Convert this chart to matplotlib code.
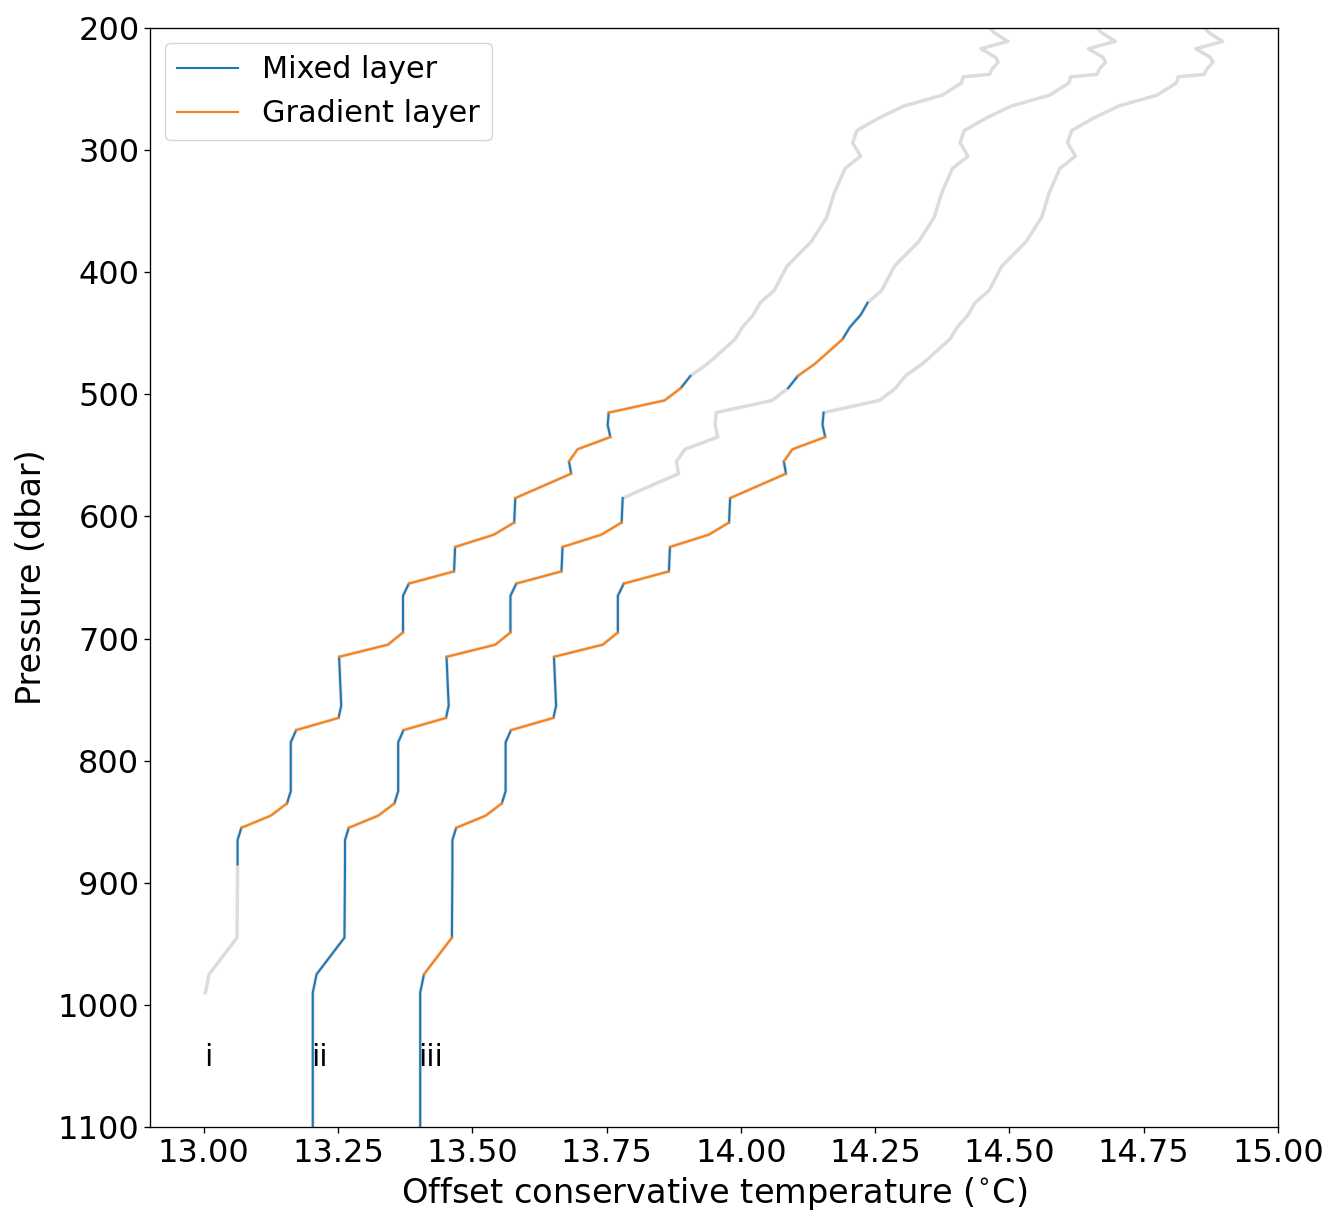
"""
Staircase detection on three offset temperature profiles.

Each profile is drawn in light grey, with the detected mixed layers
and gradient layers overlaid in colour.
"""

import matplotlib.pyplot as plt
import numpy as np
from matplotlib.lines import Line2D

# Base profile (no offset): pressure (dbar) and conservative temperature (degC)
pressure = np.array([
    200, 204, 211, 217, 224, 228, 234, 238, 240, 245,
    255, 264, 274, 284, 294, 305, 315, 335, 355, 375,
    395, 415, 425, 435, 445, 455, 475, 485, 495, 505,
    515, 525, 535, 545, 555, 565, 585, 605, 615, 625,
    645, 655, 665, 695, 705, 715, 735, 755, 765, 775,
    785, 825, 835, 845, 855, 865, 885, 945, 953, 975,
    990,
], dtype=float)
temperature = np.array([
    14.463, 14.472, 14.497, 14.447, 14.474, 14.479, 14.467, 14.463, 14.414, 14.411,
    14.375, 14.303, 14.256, 14.216, 14.208, 14.223, 14.194, 14.174, 14.160, 14.131,
    14.086, 14.062, 14.036, 14.023, 14.003, 13.989, 13.938, 13.906, 13.888, 13.858,
    13.754, 13.752, 13.757, 13.696, 13.680, 13.684, 13.580, 13.578, 13.540, 13.468,
    13.466, 13.382, 13.371, 13.371, 13.343, 13.252, 13.254, 13.256, 13.251, 13.172,
    13.162, 13.162, 13.155, 13.125, 13.070, 13.063, 13.063, 13.062, 13.048, 13.010,
    13.003,
])

# Profiles ii and iii continue below the end of profile i
pressure_deep = np.array([1100.0])
temperature_deep = np.array([13.003])

profile_names = ['i', 'ii', 'iii']
offsets = [0.0, 0.2, 0.4]
extend_deep = [False, True, True]

# Detected layers per profile, as (top, bottom) pressure ranges
mixed_layers = [
    [(485, 495), (515, 535), (555, 565), (585, 605), (625, 645),
     (655, 695), (715, 765), (775, 835), (855, 885)],
    [(425, 455), (485, 495), (585, 605), (625, 645), (655, 695),
     (715, 765), (775, 835), (855, 1100)],
    [(515, 535), (555, 565), (585, 605), (625, 645), (655, 695),
     (715, 765), (775, 835), (855, 945), (975, 1100)],
]
gradient_layers = [
    [(495, 515), (535, 555), (565, 585), (605, 625), (645, 655),
     (695, 715), (765, 775), (835, 855)],
    [(455, 485), (605, 625), (645, 655), (695, 715), (765, 775),
     (835, 855)],
    [(535, 555), (565, 585), (605, 625), (645, 655), (695, 715),
     (765, 775), (835, 855), (945, 975)],
]

MIXED_COLOR = '#1f77b4'
GRADIENT_COLOR = '#ff7f0e'
PROFILE_COLOR = '#dcdcdc'

plt.rcParams['font.family'] = ['DejaVu Sans']
plt.rcParams['axes.linewidth'] = 0.95
plt.rcParams['xtick.major.size'] = 4.1
plt.rcParams['ytick.major.size'] = 4.1
plt.rcParams['xtick.major.width'] = 0.95
plt.rcParams['ytick.major.width'] = 0.95

fig = plt.figure(figsize=(13.3, 12.1), dpi=100)
ax = fig.add_axes([0.1128, 0.0686, 0.8481, 0.9083])


def draw_layers(ax, p, t, ranges, color):
    """Overlay the parts of a profile that fall inside each pressure range."""
    for top, bottom in ranges:
        sel = (p >= top) & (p <= bottom)
        ax.plot(t[sel], p[sel], color=color, lw=1.5, zorder=3)


for k, name in enumerate(profile_names):
    p = pressure
    t = temperature
    if extend_deep[k]:
        p = np.concatenate([p, pressure_deep])
        t = np.concatenate([t, temperature_deep])
    t = t + offsets[k]

    ax.plot(t, p, color=PROFILE_COLOR, lw=2.5, zorder=2)
    draw_layers(ax, p, t, mixed_layers[k], MIXED_COLOR)
    draw_layers(ax, p, t, gradient_layers[k], GRADIENT_COLOR)

    ax.text(13.0 + offsets[k], 1050, name, fontsize=21.5, ha='left', va='baseline')

ax.set_xlim(12.9, 15.0)
ax.set_ylim(1100, 200)
ax.set_xticks(np.arange(13.0, 15.01, 0.25))
ax.set_yticks(np.arange(200, 1101, 100))
ax.tick_params(labelsize=23)
ax.set_xlabel('Offset conservative temperature ($^{\\circ}$C)', fontsize=24.2, labelpad=5)
ax.set_ylabel('Pressure (dbar)', fontsize=24, labelpad=7)

handles = [
    Line2D([], [], color=MIXED_COLOR, lw=1.5),
    Line2D([], [], color=GRADIENT_COLOR, lw=1.5),
]
ax.legend(handles, ['Mixed layer', 'Gradient layer'], loc='upper left', fontsize=21.8)

fig.savefig('out.png', dpi=100)
plt.close(fig)
